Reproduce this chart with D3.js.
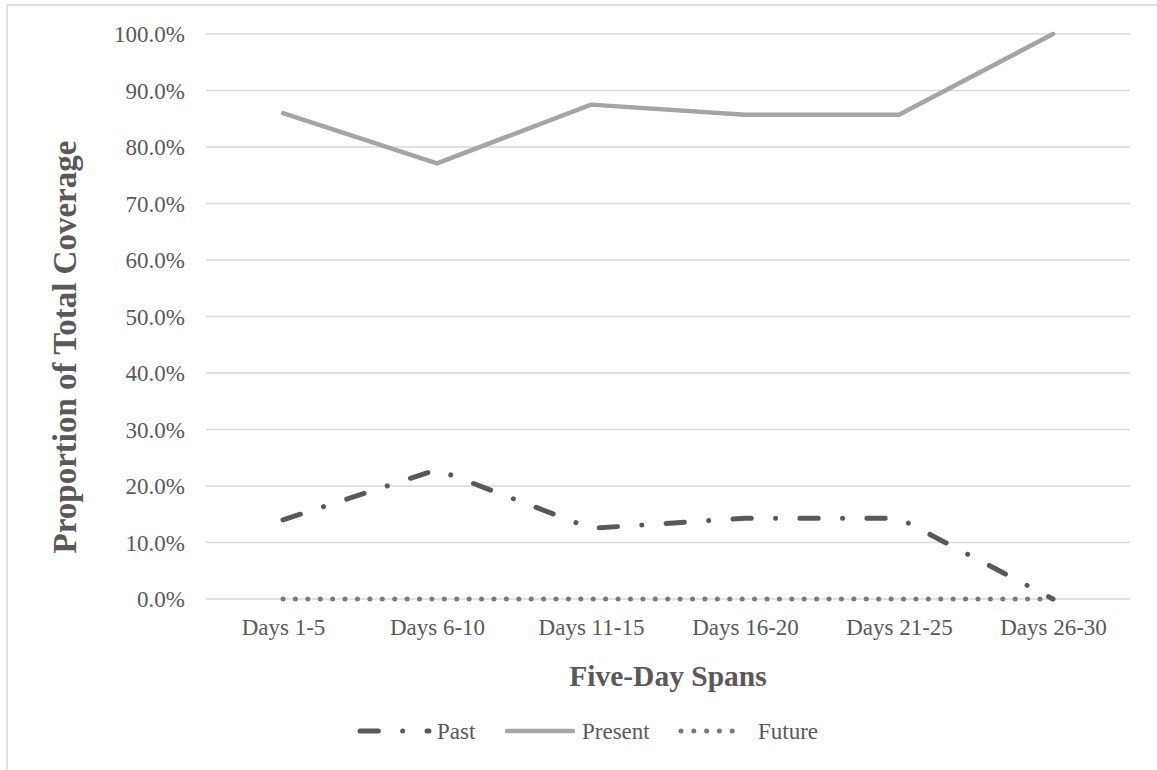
<!DOCTYPE html>
<html>
<head>
<meta charset="utf-8">
<script src="https://cdn.jsdelivr.net/npm/d3@7"></script>
<style>
  html, body { margin: 0; padding: 0; background: #fff; }
  svg { display: block; }
  text { font-family: "Liberation Serif", "Times New Roman", serif; fill: #595959; }
</style>
</head>
<body>
<svg id="chart" width="1157" height="770"></svg>
<script>
// Coverage share per five-day span
const categories = ["Days 1-5", "Days 6-10", "Days 11-15", "Days 16-20", "Days 21-25", "Days 26-30"];
const pastValues    = [0.140, 0.229, 0.125, 0.143, 0.143, 0.000];
const presentValues = [0.860, 0.771, 0.875, 0.857, 0.857, 1.000];
const futureValues  = [0.000, 0.000, 0.000, 0.000, 0.000, 0.000];
const yTicks = [0, 0.1, 0.2, 0.3, 0.4, 0.5, 0.6, 0.7, 0.8, 0.9, 1.0];

const seriesStyle = [
  { name: "Past",    values: pastValues,    color: "#595959", width: 5,   dash: "18.3 24.35 0.01 24.35" },
  { name: "Present", values: presentValues, color: "#a5a5a5", width: 4.5, dash: null },
  { name: "Future",  values: futureValues,  color: "#7a7a7a", width: 5,   dash: "0.01 12.4" }
];

const svg = d3.select("#chart");

// Outer chart frame
svg.append("path")
  .attr("d", "M7,770 L7,5 L1157,5")
  .attr("fill", "none")
  .attr("stroke", "#d9d9d9")
  .attr("stroke-width", 1.5);

const x = d3.scalePoint().domain(categories).range([206, 1130]).padding(0.5);
const y = d3.scaleLinear().domain([0, 1]).range([599, 34]);

// Horizontal gridlines
svg.append("g")
  .selectAll("line")
  .data(yTicks)
  .join("line")
  .attr("x1", 206).attr("x2", 1130)
  .attr("y1", d => y(d)).attr("y2", d => y(d))
  .attr("stroke", "#d9d9d9")
  .attr("stroke-width", 1.5);

// Y axis labels
const yAxis = d3.axisLeft(y).tickValues(yTicks).tickFormat(d3.format(".1%")).tickSize(0).tickPadding(0);
const yg = svg.append("g").attr("transform", "translate(185,0)").call(yAxis);
yg.select(".domain").remove();
yg.selectAll("text")
  .attr("font-size", 23)
  .attr("fill", "#595959")
  .attr("font-family", "Liberation Serif, Times New Roman, serif")
  .attr("dy", "0.33em");

// X axis labels
const xAxis = d3.axisBottom(x).tickSize(0).tickPadding(0);
const xg = svg.append("g").attr("transform", "translate(0,635)").call(xAxis);
xg.select(".domain").remove();
xg.selectAll("text")
  .attr("font-size", 23)
  .attr("fill", "#595959")
  .attr("font-family", "Liberation Serif, Times New Roman, serif")
  .attr("dy", 0);

// Axis titles
svg.append("text")
  .attr("x", 668).attr("y", 686)
  .attr("text-anchor", "middle")
  .attr("font-size", 29.5)
  .attr("font-weight", "bold")
  .text("Five-Day Spans");

svg.append("text")
  .attr("transform", "translate(76,347) rotate(-90)")
  .attr("text-anchor", "middle")
  .attr("font-size", 33)
  .attr("font-weight", "bold")
  .text("Proportion of Total Coverage");

// Series lines
const line = d3.line()
  .x((d, i) => x(categories[i]))
  .y(d => y(d));

const drawOrder = [seriesStyle[2], seriesStyle[1], seriesStyle[0]];
svg.append("g")
  .selectAll("path")
  .data(drawOrder)
  .join("path")
  .attr("d", d => line(d.values))
  .attr("fill", "none")
  .attr("stroke", d => d.color)
  .attr("stroke-width", d => d.width)
  .attr("stroke-linecap", "round")
  .attr("stroke-linejoin", "round")
  .attr("stroke-dasharray", d => d.dash);

// Legend
const legendY = 731;
const legendItems = [
  { s: seriesStyle[0], x1: 360, x2: 429, tx: 437 },
  { s: seriesStyle[1], x1: 507, x2: 573, tx: 582 },
  { s: seriesStyle[2], x1: 681, x2: 745, tx: 758 }
];
const lg = svg.append("g");
legendItems.forEach(it => {
  lg.append("line")
    .attr("x1", it.x1).attr("x2", it.x2)
    .attr("y1", legendY).attr("y2", legendY)
    .attr("stroke", it.s.color)
    .attr("stroke-width", it.s.width)
    .attr("stroke-linecap", "round")
    .attr("stroke-dasharray", it.s.name === "Future" ? "0.01 12.8" : it.s.dash);
  lg.append("text")
    .attr("x", it.tx).attr("y", legendY + 8)
    .attr("font-size", 23)
    .text(it.s.name);
});
</script>
</body>
</html>
